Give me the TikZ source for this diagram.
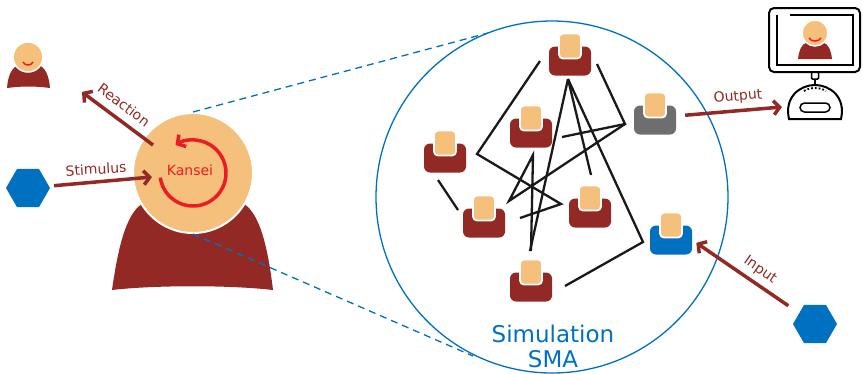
\documentclass[tikz,border=0pt]{standalone}
\usepackage{fontspec}
\setmainfont{DejaVu Sans}
\usetikzlibrary{arrows.meta, positioning, shapes.geometric}
\definecolor{kred}{RGB}{146,41,36}
\definecolor{kskin}{RGB}{244,192,124}
\definecolor{kblue}{RGB}{0,112,192}
\definecolor{kgrey}{RGB}{110,110,113}
\definecolor{kbright}{RGB}{237,28,36}
\tikzset{%
	agent/.style={rectangle, rounded corners=6pt, minimum width=42pt, minimum height=29pt,%
		inner sep=0pt, fill=kred},
	face/.style={rectangle, rounded corners=4pt, minimum width=22pt, minimum height=25pt,%
		inner sep=0pt, fill=kskin, draw=white, line width=1.8pt},
	roundhead/.style={circle, inner sep=0pt, fill=kskin, draw=white, line width=2pt},
	hexa/.style={regular polygon, regular polygon sides=6, minimum size=44pt, inner sep=0pt, fill=kblue},
	link/.style={line width=2.3pt, draw=black!90},
	flow/.style={line width=3.5pt, draw=kred, -{Straight Barb[length=6pt, width=14pt]}},
	spin/.style={line width=3.5pt, draw=kbright, -{Straight Barb[length=6pt, width=14pt]}},
	zoomline/.style={draw=kblue, line width=1.3pt, dash pattern=on 7pt off 5pt},
	lbl/.style={text=kred, font=\fontsize{14}{16}\selectfont, inner sep=0pt},
	simtext/.style={text=kblue, font=\fontsize{23}{25}\selectfont, inner sep=0pt, anchor=base},
	screen/.style={draw=black, line width=2pt}
}

\begin{document}
\begin{tikzpicture}[x=1pt, y=-1pt]
	\useasboundingbox (0,0) rectangle (863,373);

	% observer and the kansei loop
	\fill[kred] (112,290) .. controls (118,248) and (126,214) .. (142,204) -- (244,204)
		.. controls (260,214) and (268,248) .. (273,290) .. controls (230,285) and (155,285) .. cycle;
	\node[roundhead, minimum size=120pt] (mind) at (193,173) {};
	\node[text=kbright, font=\fontsize{14}{16}\selectfont, inner sep=0pt, anchor=base] (kansei) at (190,175) {Kansei};
	\draw[spin] ([shift={(172:33)}]mind.center) arc[start angle=172, end angle=-122, radius=33];

	% the other person
	\fill[kred] (7,88) .. controls (8,75) and (12,67) .. (19,65) -- (38,65)
		.. controls (45,67) and (49,75) .. (50,88) .. controls (35,86) and (22,86) .. cycle;
	\node[roundhead, minimum size=30pt, line width=1.5pt] (you) at (28,57) {};
	\draw[kbright, line width=1.5pt] (23,62) .. controls (25,66) and (31,66) .. (33,62);

	\node[hexa] (stim) at (28,188) {};
	\node[hexa] (inp) at (815,324) {};

	\coordinate (sin) at (152,177);
	\coordinate (sout) at (153,145);
	\coordinate (rend) at (82,92);
	\draw[flow, shorten <=5pt] (stim) -- (sin);
	\draw[flow] (sout) -- (rend);
	\node[lbl, rotate=3.5] (lstim) at (96,169) {Stimulus};
	\node[lbl, rotate=-37] (lreact) at (124,105) {Reaction};

	% zoom into the simulation
	\coordinate (zt) at (488,33);
	\coordinate (zb) at (473,356);
	\draw[zoomline] (mind.north) -- (zt);
	\draw[zoomline] (mind.south) -- (zb);

	\node[circle, draw=kblue, line width=1.3pt, minimum size=352pt, inner sep=0pt] (sim) at (552,197) {};
	\node[simtext] (simname) at (553,342) {Simulation};
	\node[simtext] (simsub) at (553,367) {SMA};

	% links between the agents
	\coordinate (hub) at (568,79);
	\coordinate (c1) at (540,61);
	\coordinate (c2) at (477,154);
	\coordinate (c3) at (561,204);
	\coordinate (c4) at (520,218);
	\coordinate (c5) at (530,251);
	\coordinate (c6) at (591,175);
	\coordinate (c7) at (643,242);
	\coordinate (c8) at (565,286);
	\coordinate (c9) at (597,64);
	\coordinate (c10) at (625,124);
	\coordinate (c11) at (562,137);
	\coordinate (c12) at (509,201);
	\coordinate (c13) at (533,155);
	\coordinate (c14) at (531,251);
	\coordinate (c15) at (438,180);
	\coordinate (c16) at (458,210);
	\draw[link] (c1) -- (c2) -- (c3) -- (c4);
	\draw[link] (hub) -- (c5);
	\draw[link] (hub) -- (c6);
	\draw[link] (hub) -- (c7) -- (c8);
	\draw[link] (c9) -- (c10) -- (c11);
	\draw[link] (c10) -- (c12) -- (c13) -- (c14);
	\draw[link] (c15) -- (c16);

	% agents
	\node[agent] (a1) at (570,61) {};
	\node[face] (f1) at ([yshift=15pt]a1.center) {};
	\node[agent, fill=kgrey] (a2) at (655,120) {};
	\node[face] (f2) at ([yshift=15pt]a2.center) {};
	\node[agent] (a3) at (531,133) {};
	\node[face] (f3) at ([yshift=15pt]a3.center) {};
	\node[agent] (a4) at (445,158) {};
	\node[face] (f4) at ([yshift=15pt]a4.center) {};
	\node[agent] (a5) at (484,223) {};
	\node[face] (f5) at ([yshift=15pt]a5.center) {};
	\node[agent] (a6) at (590,213) {};
	\node[face] (f6) at ([yshift=15pt]a6.center) {};
	\node[agent, fill=kblue] (a7) at (671,240) {};
	\node[face] (f7) at ([yshift=15pt]a7.center) {};
	\node[agent] (a8) at (531,287) {};
	\node[face] (f8) at ([yshift=15pt]a8.center) {};

	% monitor
	\draw[screen, rounded corners=5pt] (769,8) rectangle (860,72);
	\draw[line width=1.2pt] (790,15) -- (853,15) -- (853,65) -- (777,65) -- (777,15);
	\fill[kred] (798,59) .. controls (799,50) and (802,44) .. (806,43) -- (824,43)
		.. controls (828,44) and (831,50) .. (832,59) -- cycle;
	\node[roundhead, minimum size=26pt, line width=1.5pt] (avatar) at (815,33) {};
	\draw[kbright, line width=1.5pt] (809,38) .. controls (811,42) and (819,42) .. (821,38);
	\draw[line width=1.5pt, rounded corners=1pt] (811.5,72) rectangle (818.5,79);
	\draw[line width=1.5pt] (815,79) -- (815,85);
	\draw[screen] (789,119) .. controls (784,97) and (800,85) .. (815,85)
		.. controls (830,85) and (846,97) .. (841,119) -- cycle;
	\draw[line width=1.5pt, rounded corners=4.5pt] (800,103) rectangle (830,112);
	\draw[line width=1.8pt, dotted] (804,91) .. controls (810,87) and (820,87) .. (826,91);

	\coordinate (mon) at (782,107);
	\draw[flow, shorten <=9pt] ([yshift=4pt]a2.east) -- (mon);
	\node[lbl, rotate=5] (lout) at (738,97) {Output};
	\draw[flow, shorten <=13pt, shorten >=5pt] (inp) -- (a7.east);
	\node[lbl, rotate=-35] (lin) at (760,270) {Input};
\end{tikzpicture}
\end{document}
